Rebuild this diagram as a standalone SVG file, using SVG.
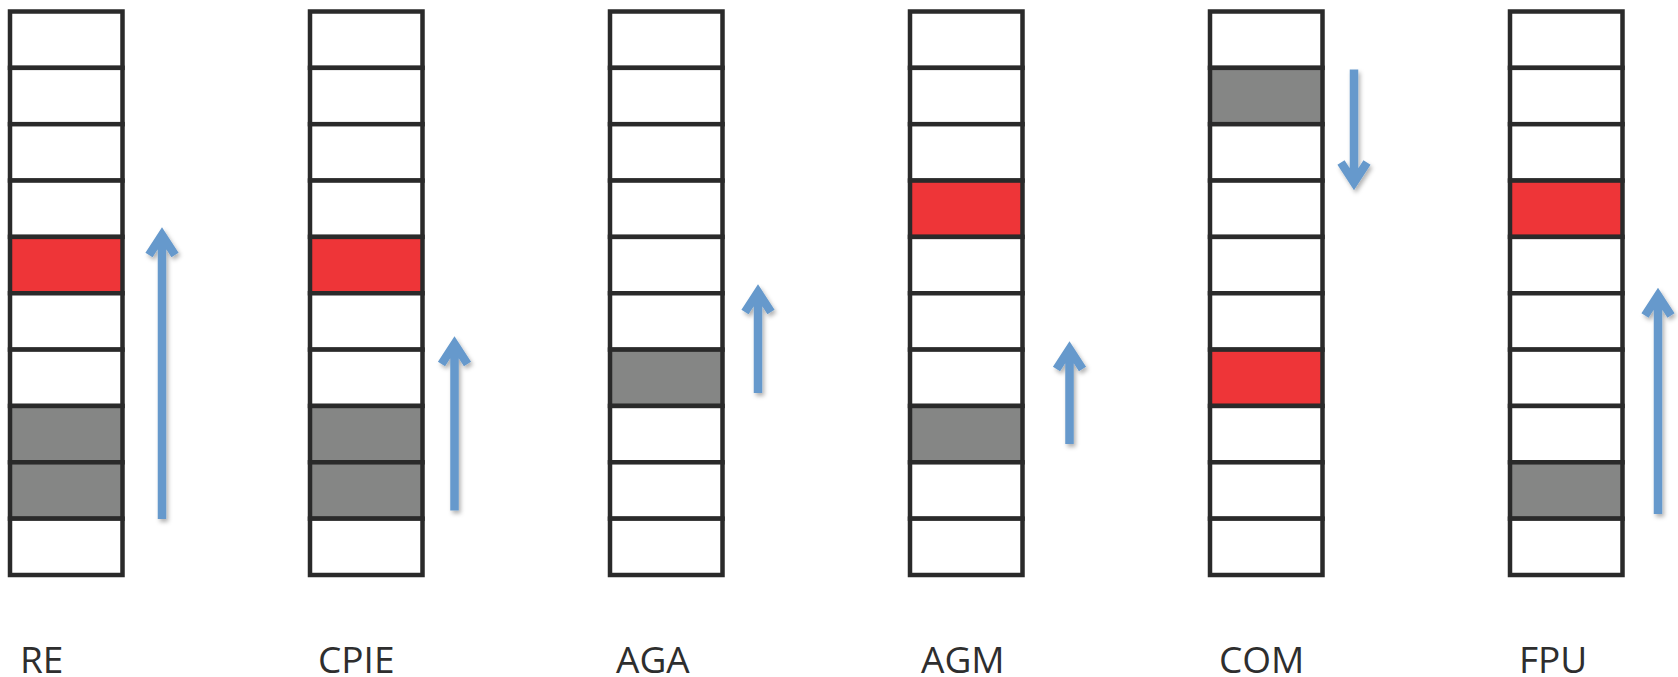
<svg xmlns="http://www.w3.org/2000/svg" width="1678" height="677" viewBox="0 0 1678 677">
<defs>
<style>
.c{fill:#ffffff;stroke:#2a2a2a;stroke-width:4.5}
.r{fill:#ee3538}
.g{fill:#858685}
.a{fill:none;stroke:#6699cc;stroke-width:8.5;stroke-linejoin:miter;stroke-miterlimit:10;filter:url(#sh)}
.t{font-family:"Open Sans","Noto Sans",sans-serif;font-size:37px;fill:#2e2e2e}
</style>
<filter id="sh" x="-50%" y="-20%" width="200%" height="140%">
<feDropShadow dx="2" dy="3" stdDeviation="2" flood-color="#000" flood-opacity="0.3"/>
</filter>
</defs>
<g id="col-RE">
<rect class="c" x="10" y="11.5" width="112.5" height="56.35"/>
<rect class="c" x="10" y="67.85" width="112.5" height="56.35"/>
<rect class="c" x="10" y="124.2" width="112.5" height="56.35"/>
<rect class="c" x="10" y="180.55" width="112.5" height="56.35"/>
<rect class="c r" x="10" y="236.9" width="112.5" height="56.35"/>
<rect class="c" x="10" y="293.25" width="112.5" height="56.35"/>
<rect class="c" x="10" y="349.6" width="112.5" height="56.35"/>
<rect class="c g" x="10" y="405.95" width="112.5" height="56.35"/>
<rect class="c g" x="10" y="462.3" width="112.5" height="56.35"/>
<rect class="c" x="10" y="518.65" width="112.5" height="56.35"/>
<text class="t" x="20" y="673">RE</text>
</g>
<g id="col-CPIE">
<rect class="c" x="310" y="11.5" width="112.5" height="56.35"/>
<rect class="c" x="310" y="67.85" width="112.5" height="56.35"/>
<rect class="c" x="310" y="124.2" width="112.5" height="56.35"/>
<rect class="c" x="310" y="180.55" width="112.5" height="56.35"/>
<rect class="c r" x="310" y="236.9" width="112.5" height="56.35"/>
<rect class="c" x="310" y="293.25" width="112.5" height="56.35"/>
<rect class="c" x="310" y="349.6" width="112.5" height="56.35"/>
<rect class="c g" x="310" y="405.95" width="112.5" height="56.35"/>
<rect class="c g" x="310" y="462.3" width="112.5" height="56.35"/>
<rect class="c" x="310" y="518.65" width="112.5" height="56.35"/>
<text class="t" x="318" y="673">CPIE</text>
</g>
<g id="col-AGA">
<rect class="c" x="610" y="11.5" width="112.5" height="56.35"/>
<rect class="c" x="610" y="67.85" width="112.5" height="56.35"/>
<rect class="c" x="610" y="124.2" width="112.5" height="56.35"/>
<rect class="c" x="610" y="180.55" width="112.5" height="56.35"/>
<rect class="c" x="610" y="236.9" width="112.5" height="56.35"/>
<rect class="c" x="610" y="293.25" width="112.5" height="56.35"/>
<rect class="c g" x="610" y="349.6" width="112.5" height="56.35"/>
<rect class="c" x="610" y="405.95" width="112.5" height="56.35"/>
<rect class="c" x="610" y="462.3" width="112.5" height="56.35"/>
<rect class="c" x="610" y="518.65" width="112.5" height="56.35"/>
<text class="t" x="616" y="673">AGA</text>
</g>
<g id="col-AGM">
<rect class="c" x="910" y="11.5" width="112.5" height="56.35"/>
<rect class="c" x="910" y="67.85" width="112.5" height="56.35"/>
<rect class="c" x="910" y="124.2" width="112.5" height="56.35"/>
<rect class="c r" x="910" y="180.55" width="112.5" height="56.35"/>
<rect class="c" x="910" y="236.9" width="112.5" height="56.35"/>
<rect class="c" x="910" y="293.25" width="112.5" height="56.35"/>
<rect class="c" x="910" y="349.6" width="112.5" height="56.35"/>
<rect class="c g" x="910" y="405.95" width="112.5" height="56.35"/>
<rect class="c" x="910" y="462.3" width="112.5" height="56.35"/>
<rect class="c" x="910" y="518.65" width="112.5" height="56.35"/>
<text class="t" x="921" y="673">AGM</text>
</g>
<g id="col-COM">
<rect class="c" x="1210" y="11.5" width="112.5" height="56.35"/>
<rect class="c g" x="1210" y="67.85" width="112.5" height="56.35"/>
<rect class="c" x="1210" y="124.2" width="112.5" height="56.35"/>
<rect class="c" x="1210" y="180.55" width="112.5" height="56.35"/>
<rect class="c" x="1210" y="236.9" width="112.5" height="56.35"/>
<rect class="c" x="1210" y="293.25" width="112.5" height="56.35"/>
<rect class="c r" x="1210" y="349.6" width="112.5" height="56.35"/>
<rect class="c" x="1210" y="405.95" width="112.5" height="56.35"/>
<rect class="c" x="1210" y="462.3" width="112.5" height="56.35"/>
<rect class="c" x="1210" y="518.65" width="112.5" height="56.35"/>
<text class="t" x="1219" y="673">COM</text>
</g>
<g id="col-FPU">
<rect class="c" x="1510" y="11.5" width="112.5" height="56.35"/>
<rect class="c" x="1510" y="67.85" width="112.5" height="56.35"/>
<rect class="c" x="1510" y="124.2" width="112.5" height="56.35"/>
<rect class="c r" x="1510" y="180.55" width="112.5" height="56.35"/>
<rect class="c" x="1510" y="236.9" width="112.5" height="56.35"/>
<rect class="c" x="1510" y="293.25" width="112.5" height="56.35"/>
<rect class="c" x="1510" y="349.6" width="112.5" height="56.35"/>
<rect class="c" x="1510" y="405.95" width="112.5" height="56.35"/>
<rect class="c g" x="1510" y="462.3" width="112.5" height="56.35"/>
<rect class="c" x="1510" y="518.65" width="112.5" height="56.35"/>
<text class="t" x="1519" y="673">FPU</text>
</g>
<g id="connectors">
<path class="a" d="M162,519 V238 M149,255 L162,235 L175,255"/>
<path class="a" d="M454.5,510.5 V347 M441.5,364 L454.5,344 L467.5,364"/>
<path class="a" d="M758,393 V295 M745,312 L758,292 L771,312"/>
<path class="a" d="M1069.5,444 V352 M1056.5,369 L1069.5,349 L1082.5,369"/>
<path class="a" d="M1354,69.5 V179.5 M1341,162.5 L1354,182.5 L1367,162.5"/>
<path class="a" d="M1658,514 V298.5 M1645,315.5 L1658,295.5 L1671,315.5"/>
</g>
</svg>
